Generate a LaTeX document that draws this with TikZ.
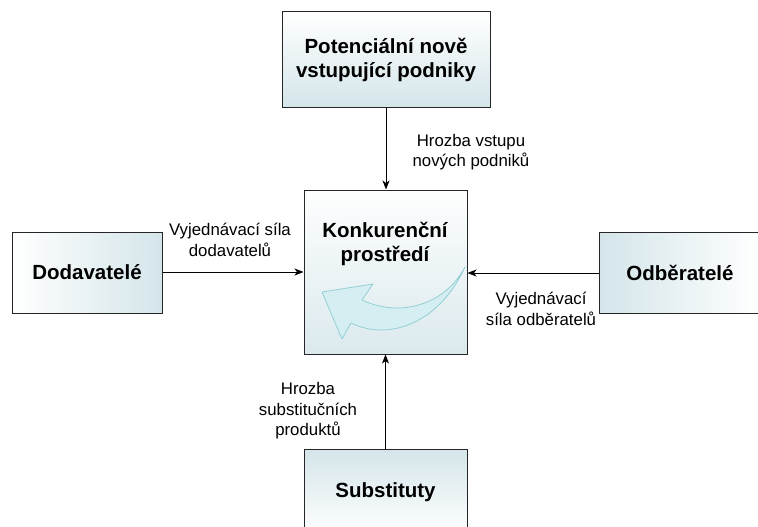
\documentclass[tikz,border=0pt]{standalone}
\usepackage{fontspec}
\setmainfont{Liberation Sans}
\usetikzlibrary{arrows.meta}
\definecolor{boxblue}{RGB}{212,229,234}
\definecolor{arrfill}{RGB}{212,238,241}
\definecolor{arrline}{RGB}{140,204,210}
\tikzset{
  box/.style={draw=black!85, line width=1pt, inner sep=0pt, align=center,
    font=\fontsize{20.5}{24}\selectfont\bfseries},
  conn/.style={draw=black, line width=0.8pt, -{Stealth[length=9pt,width=7pt,inset=2.5pt]}},
  lbl/.style={align=center, font=\fontsize{16.8}{20.5}\selectfont, inner sep=0pt},
}
\begin{document}
\begin{tikzpicture}[x=1pt,y=-1pt]
\useasboundingbox (0,0) rectangle (758,527);
\clip (0,0) rectangle (758,527);
\node[box, minimum width=208pt, minimum height=95pt, top color=white, bottom color=boxblue] (top) at (386,59.5) {Potenciální nově\\vstupující podniky};
\node[box, minimum width=163pt, minimum height=164pt, top color=white!97!boxblue, bottom color=boxblue!85!white] (mid) at (385.5,272) {};
\node[box, minimum width=150pt, minimum height=81pt, left color=white, right color=boxblue] (left) at (87,272.5) {Dodavatelé};
\node[box, minimum width=162pt, minimum height=81pt, left color=boxblue, right color=white] (right) at (680,272.5) {Odběratelé};
\node[box, minimum width=163pt, minimum height=86pt, top color=boxblue, bottom color=white] (bot) at (385.5,492) {Substituty};
\node[font=\fontsize{20.5}{24}\selectfont\bfseries, align=center, inner sep=0pt] (midtxt) at (385,244) {Konkurenční\\prostředí};
% curved arrow
\filldraw[fill=arrfill, draw=arrline, line width=0.7pt, line join=round]
  (465,267) .. controls (440,322) and (390,342) .. (351,323) -- (342,339) -- (322,292) -- (373,284) -- (362,300)
  .. controls (400,318) and (445,305) .. (465,267) -- cycle;
% connectors
\draw[conn] (top.south) -- (top.south |- mid.north);
\draw[conn] (left.east |- 0,272) -- (mid.west |- 0,272);
\draw[conn] (right.west |- 0,273) -- (mid.east |- 0,273);
\draw[conn] (bot.north) -- (bot.north |- mid.south);
% labels
\node[lbl] (l1) at (471,152) {Hrozba vstupu\\nových podniků};
\node[lbl] (l2) at (230,240) {Vyjednávací síla\\dodavatelů};
\node[lbl] (l3) at (541,309) {Vyjednávací\\síla odběratelů};
\node[lbl] (l4) at (308,411) {Hrozba\\substitučních\\produktů};
\end{tikzpicture}
\end{document}
